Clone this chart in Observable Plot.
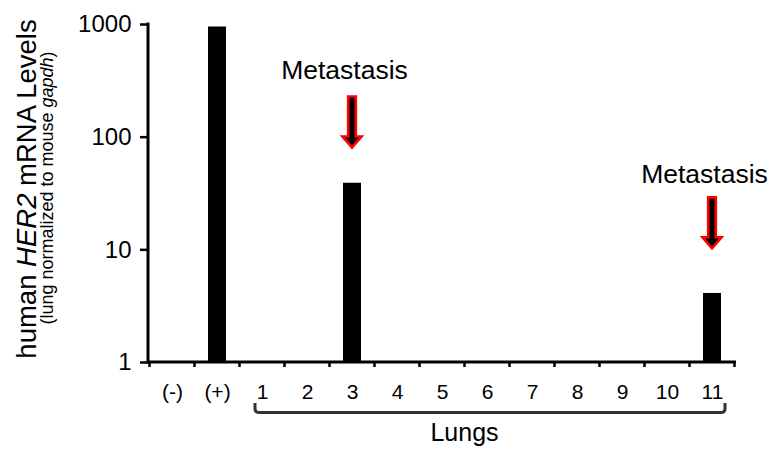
<!DOCTYPE html>
<html>
<head>
<meta charset="utf-8">
<script src="https://cdn.jsdelivr.net/npm/d3@7"></script>
<script src="https://cdn.jsdelivr.net/npm/@observablehq/plot@0.6"></script>
<style>
  html, body { margin: 0; padding: 0; background: #fff; }
  #chart svg { display: block; }
</style>
</head>
<body>
<div id="chart"></div>
<script>
// ---- data ----
const categories = ["(-)", "(+)", "1", "2", "3", "4", "5", "6", "7", "8", "9", "10", "11"];
const values = [1, 950, 1, 1, 39, 1, 1, 1, 1, 1, 1, 1, 4.1];
const yTicks = [1, 10, 100, 1000];
const annotCategories = ["3", "11"];
const annotLabels = ["Metastasis", "Metastasis"];
const arrowTipValues = [77, 9.8];     // arrow tip, in y-axis units
const labelBaseValues = [325, 39.5];  // label baseline, in y-axis units
const bracketFrom = "1";
const bracketTo = "11";
const bracketLabel = "Lungs";
const yTitleParts = [["human ", false], ["HER2", true], [" mRNA Levels", false]];
const ySubtitleParts = [["(lung normalized to mouse ", false], ["gapdh", true], [")", false]];

const data = categories.map((c, i) => ({cat: c, value: values[i]}));
const annots = annotCategories.map((c, i) => ({cat: c, label: annotLabels[i], tip: arrowTipValues[i], base: labelBaseValues[i]}));

const FONT = "'Liberation Sans', Arial, Helvetica, sans-serif";

function decorations(index, scales, values, dims) {
  const x = scales.x, y = scales.y;
  const bw = x.bandwidth();
  const step = x.step();
  const g = d3.create("svg:g").attr("font-family", FONT);
  const left = dims.marginLeft;
  const right = dims.width - dims.marginRight;
  const y0 = y(yTicks[0]);
  const yTop = y(yTicks[yTicks.length - 1]);
  const gap = (step - bw) / 2;

  // axis lines
  g.append("line").attr("x1", left).attr("x2", left).attr("y1", y0 + 1.5).attr("y2", yTop - 1.5)
    .attr("stroke", "#000").attr("stroke-width", 3);
  g.append("line").attr("x1", left).attr("x2", right).attr("y1", y0).attr("y2", y0)
    .attr("stroke", "#000").attr("stroke-width", 3);

  // x ticks at band boundaries
  const bounds = categories.map(c => x(c) - gap).concat([x(categories[categories.length - 1]) + bw + gap]);
  bounds.forEach(b => {
    g.append("line").attr("x1", b).attr("x2", b).attr("y1", y0).attr("y2", y0 + 5)
      .attr("stroke", "#000").attr("stroke-width", 2.5);
  });

  // arrows
  annots.forEach(a => {
    const cx = x(a.cat) + bw / 2;
    const ty = y(a.tip) - 2;
    const hw = 3.8, hh = 9.5, hl = 11, len = 51;
    const top = ty - len;
    const p = `M${cx - hw},${top} L${cx + hw},${top} L${cx + hw},${ty - hl} L${cx + hh},${ty - hl} L${cx},${ty} L${cx - hh},${ty - hl} L${cx - hw},${ty - hl} Z`;
    g.append("path").attr("d", p).attr("fill", "#000").attr("stroke", "#ff0000")
      .attr("stroke-width", 2.6).attr("stroke-linejoin", "miter");
  });

  // bracket under lung labels
  const bl = x(bracketFrom) + bw / 2 - 7;
  const br = x(bracketTo) + bw / 2 + 13;
  const by = y0 + 50.5, bt = y0 + 41;
  g.append("path")
    .attr("d", `M${bl},${bt} L${bl},${by - 4} Q${bl},${by} ${bl + 4},${by} L${br - 4},${by} Q${br},${by} ${br},${by - 4} L${br},${bt}`)
    .attr("fill", "none").attr("stroke", "#333").attr("stroke-width", 3);
  g.append("text").attr("x", x("6") - gap).attr("y", y0 + 79).attr("text-anchor", "middle")
    .attr("font-size", 25).attr("fill", "#000").text(bracketLabel);

  // y axis title
  const midY = (y0 + yTop) / 2 - 4;
  const t1 = g.append("text").attr("transform", `translate(36,${midY}) rotate(-90)`)
    .attr("text-anchor", "middle").attr("font-size", 27.5).attr("fill", "#000");
  yTitleParts.forEach(([s, it]) => t1.append("tspan").attr("font-style", it ? "italic" : "normal").text(s));
  const t2 = g.append("text").attr("transform", `translate(53,${midY - 1}) rotate(-90)`)
    .attr("text-anchor", "middle").attr("font-size", 18).attr("fill", "#000");
  ySubtitleParts.forEach(([s, it]) => t2.append("tspan").attr("font-style", it ? "italic" : "normal").text(s));

  return g.node();
}

const chart = Plot.plot({
  width: 774,
  height: 458,
  marginTop: 24,
  marginRight: 38,
  marginBottom: 96,
  marginLeft: 148,
  style: {fontFamily: FONT, color: "#000", background: "#fff", overflow: "visible"},
  x: {domain: categories, paddingInner: 0.6, paddingOuter: 0.3, label: null},
  y: {type: "log", domain: [1, 1000], label: null},
  marks: [
    Plot.barY(data, {x: "cat", y1: () => 1, y2: "value", fill: "#000"}),
    Plot.axisY({ticks: yTicks, tickFormat: d => String(d), tickSize: 8, tickPadding: 9, fontSize: 24, strokeWidth: 2.5, label: null}),
    Plot.axisX({tickSize: 0, tickPadding: 22, fontSize: 21, label: null}),
    Plot.text(annots, {x: "cat", y: "base", text: "label", dx: -8, fontSize: 26.5, lineAnchor: "bottom", textAnchor: "middle", fill: "#000"}),
    decorations
  ]
});
document.getElementById("chart").appendChild(chart);
</script>
</body>
</html>
